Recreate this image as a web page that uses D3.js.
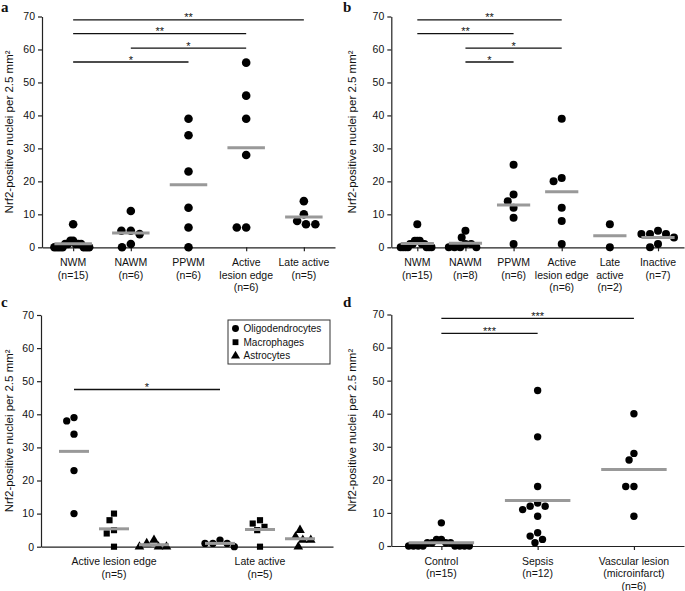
<!DOCTYPE html>
<html><head><meta charset="utf-8">
<script src="https://cdn.jsdelivr.net/npm/d3@7"></script>
<style>
body{margin:0;background:#fff}
svg{display:block}
text{font-family:"Liberation Sans",Arial,Helvetica,sans-serif;fill:#111}
</style>
</head><body>
<svg id="chart" width="685" height="591"></svg>
<script>
// ---------------- DATA ----------------
const yTicks = [0, 10, 20, 30, 40, 50, 60, 70];
const yTitle = "Nrf2-positive nuclei per 2.5 mm\u00B2";

// Panel a
const labelsA = [["NWM","(n=15)"],["NAWM","(n=6)"],["PPWM","(n=6)"],["Active","lesion edge","(n=6)"],["Late active","(n=5)"]];
const valuesA = [
  [7,2,2,1,1,1,1,1,0,0,0,0,0,0,0],
  [11,5,5,4,1,0],
  [39,34,23,12,6,0],
  [56,46,39,28,6,6],
  [14,10,8,7,7]
];
const sigA = [[0,4,69,"**"],[0,3,64.8,"**"],[1,3,60.4,"*"],[0,2,56.2,"*"]];

// Panel b
const labelsB = [["NWM","(n=15)"],["NAWM","(n=8)"],["PPWM","(n=6)"],["Active","lesion edge","(n=6)"],["Late","active","(n=2)"],["Inactive","(n=7)"]];
const valuesB = [
  [7,2,2,2,1,1,1,1,0,0,0,0,0,0,0],
  [5,3,1,1,0,0,0,0],
  [25,16,14,12,9,1],
  [39,21,20,12,8,1],
  [7,0],
  [5,4,4,4,3,1,0]
];
const sigB = [[0,3,69,"**"],[0,2,64.8,"**"],[1,3,60.4,"*"],[1,2,56.2,"*"]];

// Panel c
const labelsC = [["Active lesion edge","(n=5)"],["Late active","(n=5)"]];
const seriesC = ["Oligodendrocytes","Macrophages","Astrocytes"];
const valuesC = [
  [[39,38,34,23,10],[10,8,5,4,0],[2,1,0,0,0]],
  [[2,1,1,1,0],[8,7,6,5,0],[5,3,2,2,0]]
];
const sigC = [[0,0,1,0,47.5,"*"]];

// Panel d
const labelsD = [["Control","(n=15)"],["Sepsis","(n=12)"],["Vascular lesion","(microinfarct)","(n=6)"]];
const valuesD = [
  [7,2,2,1,1,1,1,0,0,0,0,0,0,0,0],
  [47,33,18,13,12,12,11,9,4,3,2,1],
  [40,28,26,18,18,9]
];
const sigD = [[0,2,68.8,"***"],[0,1,64.3,"***"]];

// ---------------- DRAWING ----------------
const svg = d3.select("#chart");
const FS = 10.5;
const meanColor = "#999";

function beeswarm(vals, y, r, maxHalf) {
  const pts = vals.map(v => ({v, py: y(v), x: 0}));
  const order = pts.slice().sort((a, b) => d3.descending(a.v, b.v));
  const placed = [];
  const d = 2 * r + 0.8;
  for (const p of order) {
    const iv = [];
    for (const q of placed) {
      const dy = Math.abs(q.py - p.py);
      if (dy < d) { const w = Math.sqrt(d * d - dy * dy); iv.push([q.x - w, q.x + w]); }
    }
    const cands = [0];
    iv.forEach(([a, b]) => cands.push(a, b));
    cands.sort((a, b) => Math.abs(a) - Math.abs(b) || a - b);
    p.x = cands.find(c => iv.every(([a, b]) => c <= a + 1e-6 || c >= b - 1e-6));
    placed.push(p);
  }
  const m = d3.max(pts, p => Math.abs(p.x));
  if (m > maxHalf) pts.forEach(p => p.x *= maxHalf / m);
  return pts;
}

function frame(o) {
  const g = svg.append("g");
  const y = d3.scaleLinear().domain([0, 70]).range([o.y0, o.y70]);
  // y axis
  const ya = g.append("g").attr("transform", `translate(${o.left},0)`)
    .call(d3.axisLeft(y).tickValues(yTicks).tickSize(4).tickSizeOuter(0).tickPadding(3));
  ya.selectAll("path,line").attr("stroke", "#222").attr("stroke-width", 1.2);
  ya.selectAll("text").attr("font-size", FS).attr("font-family", null).style("fill", "#111");
  // y title
  g.append("text").attr("transform", `translate(${o.titleX},${(o.y0 + o.y70) / 2}) rotate(-90)`)
    .attr("text-anchor", "middle").attr("font-size", 11.5).text(yTitle);
  // panel letter
  g.append("text").attr("x", o.letterX).attr("y", o.letterY).attr("font-size", 15)
    .attr("font-weight", "bold").style("font-family", "'Liberation Serif','Times New Roman',serif").text(o.letter);
  return {g, y};
}

function xLabels(g, xs, labels, y0) {
  labels.forEach((lines, i) => {
    const t = g.append("text").attr("text-anchor", "middle").attr("font-size", FS);
    lines.forEach((ln, k) => t.append("tspan").attr("x", xs[i]).attr("y", y0 + 18.5 + k * 12.8).text(ln));
  });
}

function sigBars(g, y, bars) {
  bars.forEach(([x1, x2, v, s]) => {
    g.append("line").attr("x1", x1).attr("x2", x2).attr("y1", y(v)).attr("y2", y(v))
      .attr("stroke", "#111").attr("stroke-width", 1.3);
    g.append("text").attr("x", (x1 + x2) / 2).attr("y", y(v) + 1.5).attr("text-anchor", "middle")
      .attr("font-size", 11).text(s);
  });
}

function scatterPanel(o, labels, values, sig) {
  const {g, y} = frame(o);
  const x = d3.scalePoint().domain(d3.range(labels.length)).range([o.left, o.right]).padding(o.pad);
  const xa = g.append("g").attr("transform", `translate(0,${o.y0})`)
    .call(d3.axisBottom(x).tickSize(4).tickSizeOuter(0).tickFormat(""));
  xa.selectAll("path,line").attr("stroke", "#222").attr("stroke-width", 1.2);
  const xs = labels.map((_, i) => x(i));
  xLabels(g, xs, labels, o.y0);
  const mw = x.step() * o.meanFrac;
  values.forEach((vals, i) => {
    const pts = beeswarm(vals, y, o.r, mw / 2);
    g.append("g").selectAll("circle").data(pts).join("circle")
      .attr("cx", p => x(i) + p.x).attr("cy", p => p.py).attr("r", o.r).attr("fill", "#000");
    const m = d3.mean(vals);
    g.append("line").attr("x1", x(i) - mw / 2).attr("x2", x(i) + mw / 2)
      .attr("y1", y(m)).attr("y2", y(m)).attr("stroke", meanColor).attr("stroke-width", 3);
  });
  sigBars(g, y, sig.map(([a, b, v, s]) => [x(a), x(b), v, s]));
}

// Panel a
scatterPanel({left: 42, right: 335, y0: 247.3, y70: 16.5, pad: 0.54, r: 4.3, meanFrac: 0.65,
  titleX: 13, letter: "a", letterX: 1, letterY: 12}, labelsA, valuesA, sigA);
// Panel b
scatterPanel({left: 391.3, right: 684, y0: 247.3, y70: 16.5, pad: 0.54, r: 4.0, meanFrac: 0.69,
  titleX: 356, letter: "b", letterX: 343, letterY: 12}, labelsB, valuesB, sigB);
// Panel d
scatterPanel({left: 391.3, right: 684, y0: 546, y70: 314.5, pad: 0.52, r: 3.7, meanFrac: 0.68,
  titleX: 356, letter: "d", letterX: 343, letterY: 307}, labelsD, valuesD, sigD);

// Panel c (grouped)
(function () {
  const o = {left: 41, right: 333, y0: 546.7, y70: 315, titleX: 13, letter: "c", letterX: 1, letterY: 307};
  const {g, y} = frame(o);
  const xg = d3.scalePoint().domain(d3.range(labelsC.length)).range([o.left, o.right]).padding(0.5);
  const xs = d3.scalePoint().domain(seriesC).range([-40, 40]);
  const xa = g.append("g").attr("transform", `translate(0,${o.y0})`)
    .call(d3.axisBottom(xg).tickSize(0).tickSizeOuter(0).tickFormat(""));
  xa.selectAll("path,line").attr("stroke", "#222").attr("stroke-width", 1.2);
  xLabels(g, labelsC.map((_, i) => xg(i)), labelsC, o.y0);
  const shapes = [d3.symbolCircle, d3.symbolSquare, d3.symbolTriangle];
  const sizes = [42, 38, 40];
  const mw = 30;
  valuesC.forEach((grp, gi) => {
    grp.forEach((vals, si) => {
      const cx = xg(gi) + xs(seriesC[si]);
      const pts = beeswarm(vals, y, 3.6, mw / 2);
      g.append("g").selectAll("path").data(pts).join("path")
        .attr("d", d3.symbol(shapes[si], sizes[si]))
        .attr("transform", p => `translate(${cx + p.x},${p.py})`).attr("fill", "#000");
      const m = d3.mean(vals);
      g.append("line").attr("x1", cx - mw / 2).attr("x2", cx + mw / 2)
        .attr("y1", y(m)).attr("y2", y(m)).attr("stroke", meanColor).attr("stroke-width", 3);
    });
  });
  sigBars(g, y, sigC.map(([g1, s1, g2, s2, v, s]) => [xg(g1) + xs(seriesC[s1]), xg(g2) + xs(seriesC[s2]), v, s]));
  // legend
  const lg = g.append("g").attr("transform", "translate(228,320)");
  lg.append("rect").attr("width", 102).attr("height", 44).attr("fill", "#fff")
    .attr("stroke", "#333").attr("stroke-width", 1);
  seriesC.forEach((s, i) => {
    lg.append("path").attr("d", d3.symbol(shapes[i], sizes[i] * 0.9))
      .attr("transform", `translate(7.5,${8.5 + i * 13.7})`).attr("fill", "#000");
    lg.append("text").attr("x", 15.5).attr("y", 8.5 + i * 13.7).attr("dy", "0.35em")
      .attr("font-size", 10).text(s);
  });
})();
</script>
</body></html>
